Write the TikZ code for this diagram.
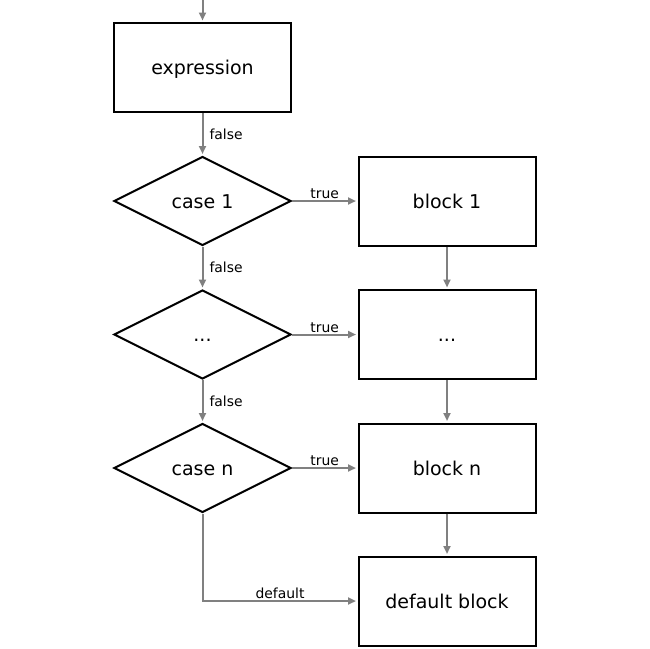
\documentclass[tikz,border=0pt]{standalone}
\usepackage{fontspec}
\setmainfont{DejaVu Sans}
\usetikzlibrary{shapes.geometric,arrows.meta}
\begin{document}
\begin{tikzpicture}[x=1pt,y=-1pt,
  box/.style={draw=black,line width=2pt,minimum width=177pt,minimum height=89pt,inner sep=0pt,font=\fontsize{19}{20}\selectfont,text height=14pt,text depth=0pt},
  dia/.style={draw=black,line width=2pt,diamond,aspect=2,minimum width=177pt,minimum height=89pt,inner sep=0pt,font=\fontsize{19}{20}\selectfont,text height=14pt,text depth=0pt},
  conn/.style={draw=gray,line width=2pt,-{Triangle[length=8pt,width=7pt]},shorten >=1.5pt},
  lbl/.style={font=\fontsize{13.9}{15}\selectfont,text=black,inner sep=2pt}]
\useasboundingbox (0,0) rectangle (650,648);
\coordinate (top) at (202.5,0);
\node[box] (expr) at (202.5,67.5) {expression};
\node[dia] (c1) at (202.5,201) {case 1};
\node[box] (b1) at (447,201) {block 1};
\node[dia] (c2) at (202.5,334.5) {...};
\node[box] (b2) at (447,334.5) {...};
\node[dia] (cn) at (202.5,468) {case n};
\node[box] (bn) at (447,468) {block n};
\node[box] (bd) at (447,601) {default block};
\draw[conn] (top) -- (expr.north);
\draw[conn] (expr.south) -- node[lbl,anchor=west,xshift=4pt]{false} (c1.north);
\draw[conn] (c1.south) -- node[lbl,anchor=west,xshift=4pt]{false} (c2.north);
\draw[conn] (c2.south) -- node[lbl,anchor=west,xshift=4pt]{false} (cn.north);
\draw[conn] (c1.east) -- node[lbl,anchor=south,inner sep=1pt]{true} (b1.west);
\draw[conn] (c2.east) -- node[lbl,anchor=south,inner sep=1pt]{true} (b2.west);
\draw[conn] (cn.east) -- node[lbl,anchor=south,inner sep=1pt]{true} (bn.west);
\draw[conn] (b1.south) -- (b2.north);
\draw[conn] (b2.south) -- (bn.north);
\draw[conn] (bn.south) -- (bd.north);
\draw[conn] (cn.south) |- node[lbl,anchor=south,inner sep=1pt,pos=0.75]{default} (bd.west);
\end{tikzpicture}
\end{document}
